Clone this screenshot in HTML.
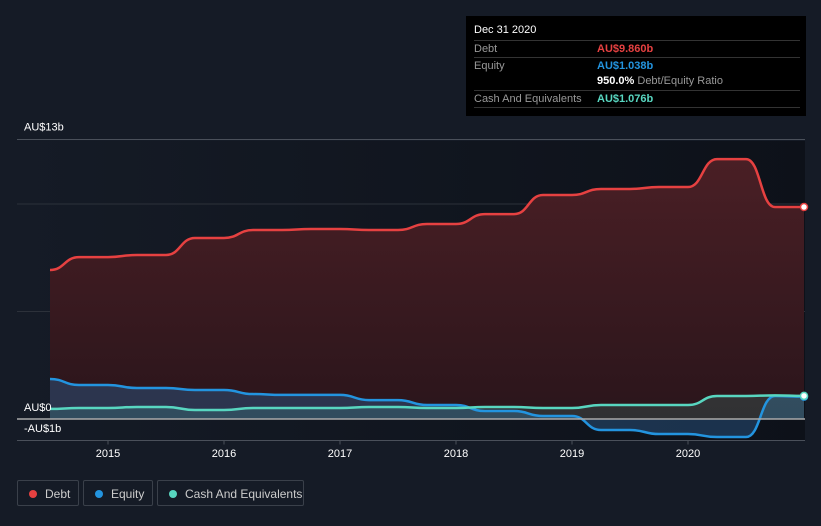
<!DOCTYPE html>
<html><head><meta charset="utf-8"><style>
body{margin:0;background:#151b26;width:821px;height:526px;overflow:hidden;font-family:"Liberation Sans",sans-serif;}
svg{position:absolute;left:0;top:0}
.tip{position:absolute;left:466px;top:16px;width:340px;height:100px;background:#000;color:#fff;font-size:11px}
.tip .r{position:absolute;left:8px;right:6px;border-top:1px solid #333;height:16px;line-height:16px;color:#999}
.tip .v{position:absolute;left:123px;font-weight:bold}
.leg{position:absolute;top:480px;height:26px;border:1px solid #3a404a;border-radius:2px;color:#ccc;font-size:12px;line-height:26px;box-sizing:border-box}
.leg i{position:absolute;left:11px;top:9px;width:8px;height:8px;border-radius:50%}
.leg span{position:absolute;left:27px}
</style></head><body>
<svg width="821" height="526">
<defs>
<linearGradient id="bg" x1="0" x2="1"><stop offset="0" stop-color="#151b26"/><stop offset="1" stop-color="#0d1119"/></linearGradient>
<linearGradient id="dg" x1="0" y1="0" x2="0" y2="1"><stop offset="0" stop-color="#4a1f25"/><stop offset="1" stop-color="#2a151b"/></linearGradient>
</defs>
<rect x="17" y="141" width="788" height="300" fill="url(#bg)"/>
<g id="grid"></g>
<g id="areas"></g>
<g id="lines"></g>
<g id="axis"></g>
</svg>
<div class="tip">
<div style="position:absolute;left:8px;top:8px;font-size:11px">Dec 31 2020</div>
<div class="r" style="top:24px">Debt<span class="v" style="color:#e64141">AU$9.860b</span></div>
<div class="r" style="top:41px">Equity<span class="v" style="color:#2394df">AU$1.038b</span></div>
<div class="r" style="top:57px;border-top:none"><span class="v" style="color:#fff">950.0% <span style="font-weight:normal;color:#999">Debt/Equity Ratio</span></span></div>
<div class="r" style="top:74px;border-bottom:1px solid #333">Cash And Equivalents<span class="v" style="color:#58d6c0">AU$1.076b</span></div>
</div>
<div class="leg" style="left:17px;width:62px"><i style="background:#e64141"></i><span>Debt</span></div>
<div class="leg" style="left:83px;width:70px"><i style="background:#2394df"></i><span>Equity</span></div>
<div class="leg" style="left:157px;width:147px"><i style="background:#58d6c0"></i><span>Cash And Equivalents</span></div>
<script>
const dates=[2014.5,2014.75,2015,2015.25,2015.5,2015.75,2016,2016.25,2016.5,2016.75,2017,2017.25,2017.5,2017.75,2018,2018.25,2018.5,2018.75,2019,2019.25,2019.5,2019.75,2020,2020.25,2020.5,2020.75,2021];
const debt=[6.93,7.53,7.53,7.63,7.63,8.42,8.42,8.79,8.79,8.84,8.84,8.79,8.79,9.07,9.07,9.53,9.53,10.42,10.42,10.7,10.7,10.79,10.79,12.09,12.09,9.86,9.86];
const equity=[1.86,1.58,1.58,1.44,1.44,1.35,1.35,1.16,1.12,1.12,1.12,0.88,0.88,0.65,0.65,0.37,0.37,0.14,0.14,-0.51,-0.51,-0.7,-0.7,-0.84,-0.84,1.07,1.038];
const cash=[0.47,0.51,0.51,0.56,0.56,0.42,0.42,0.51,0.51,0.51,0.51,0.56,0.56,0.51,0.51,0.56,0.56,0.51,0.51,0.65,0.65,0.65,0.65,1.07,1.07,1.1,1.076];
const yearTicks=[2015,2016,2017,2018,2019,2020];
const yTicks=[13,10,5];
const X=d=>108+(d-2015)*116;
const Y=v=>419-v*21.5;
const NS='http://www.w3.org/2000/svg';
function mk(t,a,p){const e=document.createElementNS(NS,t);for(const k in a)e.setAttribute(k,a[k]);p.appendChild(e);return e;}
function path(vals){let s='M'+X(dates[0])+','+Y(vals[0]);for(let i=1;i<dates.length;i++){const x0=X(dates[i-1]),x1=X(dates[i]),m=(x0+x1)/2;s+=' C'+m+','+Y(vals[i-1])+' '+m+','+Y(vals[i])+' '+x1+','+Y(vals[i]);}return s;}
const grid=document.getElementById('grid'),areas=document.getElementById('areas'),lines=document.getElementById('lines'),axis=document.getElementById('axis');
yTicks.forEach((v,i)=>{const g=mk('line',{x1:17,x2:805,y1:Y(v),y2:Y(v),stroke:i==0?'#4a505a':'#2c313a','stroke-width':1},grid);

});
const zeroX=X(dates[dates.length-1]);
const series=[[debt,'#e64141','url(#dg)','debt'],[equity,'#2394df','rgba(45,90,140,0.45)','equity'],[cash,'#58d6c0','rgba(88,214,192,0.15)','cash']];
series.forEach(s=>{const a=mk('path',{d:path(s[0])+' L'+zeroX+','+Y(0)+' L'+X(dates[0])+','+Y(0)+'Z',fill:s[2]},areas);

});
series.forEach(s=>{const l=mk('path',{d:path(s[0]),fill:'none',stroke:s[1],'stroke-width':2.5},lines);


const c=mk('circle',{cx:zeroX,cy:Y(s[0][s[0].length-1]),r:3.5,fill:s[3]=='equity'?'none':'#fff',stroke:s[1],'stroke-width':1.5},lines);

});
const z=mk('line',{x1:17,x2:805,y1:Y(0),y2:Y(0),stroke:'#aaa','stroke-width':1.5},axis);


const b=mk('line',{x1:17,x2:805,y1:Y(-1),y2:Y(-1),stroke:'#4a505a','stroke-width':1},axis);


[[13,'AU$13b',Y(13)-9],[0,'AU$0',Y(0)-8],[-1,'-AU$1b',Y(0)+13]].forEach(t=>{const e=mk('text',{x:24,y:t[2],fill:'#fff','font-size':11},axis);e.textContent=t[1];

});
yearTicks.forEach(yv=>{const tk=mk('line',{x1:X(yv),x2:X(yv),y1:Y(-1),y2:Y(-1)+4,stroke:'#4a505a'},axis);


const e=mk('text',{x:X(yv),y:457,fill:'#fff','font-size':11,'text-anchor':'middle'},axis);e.textContent=yv;

});
</script>
</body></html>
